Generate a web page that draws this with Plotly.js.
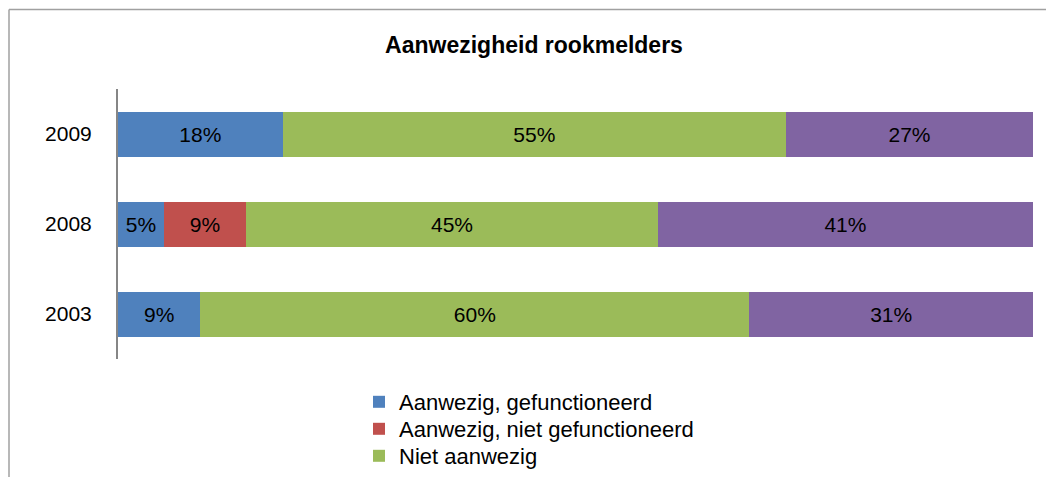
<!DOCTYPE html>
<html>
<head>
<meta charset="utf-8">
<script src="https://cdn.plot.ly/plotly-3.0.1.min.js"></script>
<style>html,body{margin:0;padding:0;background:#fff;}#chart{width:1046px;height:477px;}</style>
</head>
<body>
<div id="chart"></div>
<script>
var years = ['2009', '2008', '2003'];
var seriesNames = ['Aanwezig, gefunctioneerd', 'Aanwezig, niet gefunctioneerd', 'Niet aanwezig', 'Onbekend'];
var functioneerd = [18, 5, 9];
var nietFunctioneerd = [0, 9, 0];
var nietAanwezig = [55, 45, 60];
var onbekend = [27, 41, 31];
var colors = ['#4F81BD', '#C0504D', '#9BBB59', '#8064A2'];
var values = [functioneerd, nietFunctioneerd, nietAanwezig, onbekend];
var legendIds = ['legend', 'legend2', 'legend3', 'legend3'];

var font = "'Liberation Sans', Arial, sans-serif";
var traces = values.map(function (vals, i) {
  return {
    type: 'bar',
    orientation: 'h',
    name: seriesNames[i],
    y: years,
    x: vals,
    legend: legendIds[i],
    marker: { color: colors[i], line: { width: 0 } },
    text: vals.map(function (v) { return v > 0 ? v + '%' : ''; }),
    textposition: 'inside',
    insidetextanchor: 'middle',
    constraintext: 'none',
    textfont: { family: font, size: 21, color: '#000' },
    hoverinfo: 'x+name',
    showlegend: i < 3
  };
});

// helpers for px -> paper coords
var L = 118, R = 1033, T = 89, B = 359;
function px(x) { return (x - L) / (R - L); }
function py(y) { return (B - y) / (B - T); }

function legendAt(yc) {
  return {
    x: px(359), xanchor: 'left',
    y: py(yc), yanchor: 'middle',
    orientation: 'v',
    bgcolor: 'rgba(0,0,0,0)',
    font: { family: font, size: 22, color: '#000' },
    itemwidth: 30
  };
}

var layout = {
  width: 1046,
  height: 477,
  barmode: 'stack',
  bargap: 0.5,
  margin: { l: L, r: 1046 - R, t: T, b: 477 - B, autoexpand: false },
  paper_bgcolor: '#fff',
  plot_bgcolor: '#fff',
  font: { family: font, size: 21, color: '#000' },
  uniformtext: { mode: 'show', minsize: 21 },
  title: {
    text: '<b>Aanwezigheid rookmelders</b>',
    font: { family: font, size: 23, color: '#000' },
    xref: 'container', x: 534 / 1046, xanchor: 'center',
    yref: 'container', y: 1 - 45 / 477, yanchor: 'middle'
  },
  xaxis: { range: [0, 100], visible: false, fixedrange: true },
  yaxis: {
    type: 'category',
    autorange: 'reversed',
    showline: true, linecolor: '#868686', linewidth: 2,
    ticks: '', showgrid: false, zeroline: false,
    tickfont: { family: font, size: 21, color: '#000' },
    ticklabelstandoff: 20
  },
  showlegend: true,
  legend: legendAt(402),
  legend2: legendAt(429),
  legend3: legendAt(456),
  shapes: [
    { type: 'line', xref: 'paper', yref: 'paper', x0: px(9), x1: px(1046), y0: py(9.5), y1: py(9.5),
      line: { color: '#A0A0A0', width: 1.5 }, layer: 'below' },
    { type: 'line', xref: 'paper', yref: 'paper', x0: px(9), x1: px(9), y0: py(9.5), y1: py(477),
      line: { color: '#A0A0A0', width: 1.5 }, layer: 'below' }
  ]
};

Plotly.newPlot('chart', traces, layout, { displayModeBar: false, staticPlot: true });
</script>
</body>
</html>
